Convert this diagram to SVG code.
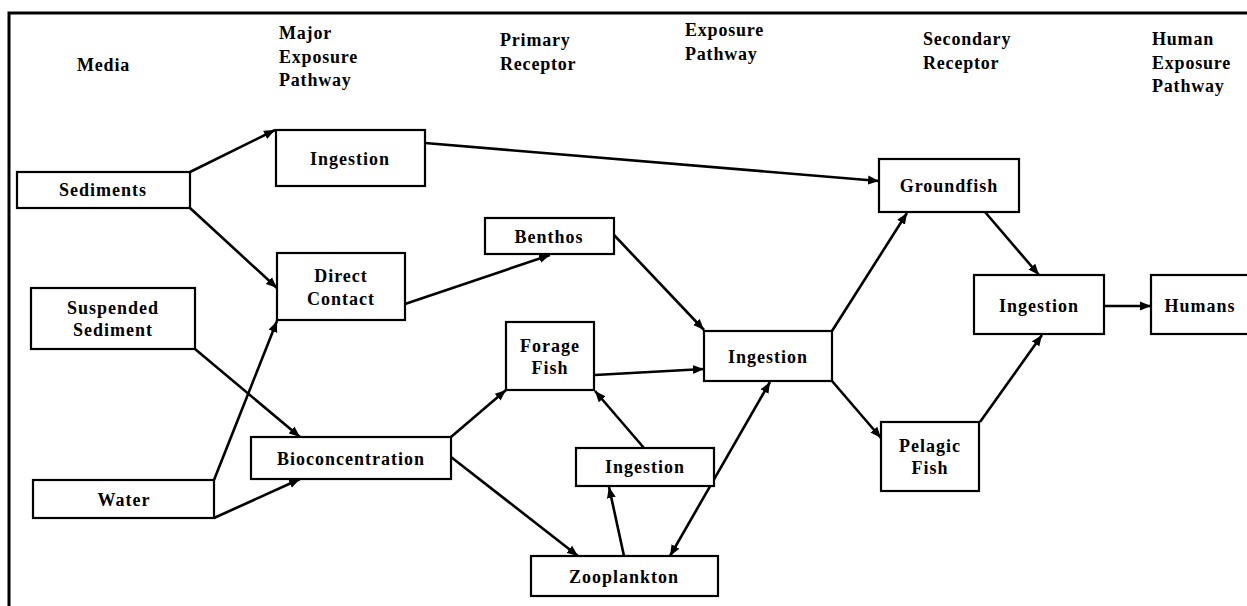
<svg xmlns="http://www.w3.org/2000/svg" width="1247" height="606" viewBox="0 0 1247 606">
  <style>
    .box { fill: #fff; stroke: #000; stroke-width: 2.2; }
    .lbl { font-family: "Liberation Serif", "Times New Roman", serif; font-weight: bold; font-size: 18px; letter-spacing: 1px; fill: #000; text-anchor: middle; }
    .hdr { font-family: "Liberation Serif", "Times New Roman", serif; font-weight: bold; font-size: 18px; letter-spacing: 0.8px; fill: #000; }
    .edge { stroke: #000; stroke-width: 2.6; fill: none; marker-end: url(#arrow); }
    .frame { stroke: #000; stroke-width: 3; fill: none; }
  </style>
  <defs>
    <marker id="arrow" markerUnits="userSpaceOnUse" markerWidth="12" markerHeight="10" refX="11" refY="5" orient="auto-start-reverse">
      <path d="M0,0.5 L11,5 L0,9.5 Z" fill="#000"/>
    </marker>
  </defs>
  <rect width="1247" height="606" fill="#fff"/>

  <!-- outer frame (top and left edges) -->
  <path class="frame" d="M9,606 V13 H1247"/>

  <!-- column headings -->
  <g id="headings">
    <text class="hdr" x="77" y="71">Media</text>
    <text class="hdr" x="279" y="39">Major</text>
    <text class="hdr" x="279" y="63">Exposure</text>
    <text class="hdr" x="279" y="86">Pathway</text>
    <text class="hdr" x="500" y="46">Primary</text>
    <text class="hdr" x="500" y="70">Receptor</text>
    <text class="hdr" x="685" y="36">Exposure</text>
    <text class="hdr" x="685" y="60">Pathway</text>
    <text class="hdr" x="923" y="45">Secondary</text>
    <text class="hdr" x="923" y="69">Receptor</text>
    <text class="hdr" x="1152" y="45">Human</text>
    <text class="hdr" x="1152" y="69">Exposure</text>
    <text class="hdr" x="1152" y="92">Pathway</text>
  </g>

  <!-- connectors -->
  <g id="connectors">
    <line class="edge" x1="190" y1="172" x2="275" y2="130"/>
    <line class="edge" x1="425" y1="143" x2="879" y2="181"/>
    <line class="edge" x1="190" y1="208" x2="277" y2="288"/>
    <line class="edge" x1="195" y1="349" x2="300" y2="437"/>
    <line class="edge" x1="214" y1="480" x2="277" y2="321"/>
    <line class="edge" x1="214" y1="518" x2="300" y2="479"/>
    <line class="edge" x1="405" y1="304" x2="550" y2="255"/>
    <line class="edge" x1="451" y1="437" x2="506" y2="390"/>
    <line class="edge" x1="451" y1="457" x2="578" y2="556"/>
    <line class="edge" x1="614" y1="235" x2="704" y2="330"/>
    <line class="edge" x1="595" y1="375" x2="704" y2="369"/>
    <line class="edge" x1="644" y1="448" x2="595" y2="391"/>
    <line class="edge" x1="624" y1="556" x2="609" y2="487"/>
    <line class="edge" x1="670" y1="556" x2="770" y2="382" marker-start="url(#arrow)"/>
    <line class="edge" x1="832" y1="331" x2="907" y2="213"/>
    <line class="edge" x1="832" y1="381" x2="881" y2="438"/>
    <line class="edge" x1="985" y1="212" x2="1039" y2="275"/>
    <line class="edge" x1="980" y1="422" x2="1042" y2="335"/>
    <line class="edge" x1="1104" y1="306" x2="1151" y2="306"/>
  </g>

  <!-- nodes -->
  <g id="sediments">
    <rect class="box" x="17" y="172" width="173" height="36"/>
    <text class="lbl" x="103" y="196">Sediments</text>
  </g>
  <g id="ingestion-sediments">
    <rect class="box" x="276" y="130" width="149" height="56"/>
    <text class="lbl" x="350" y="165">Ingestion</text>
  </g>
  <g id="suspended-sediment">
    <rect class="box" x="31" y="288" width="164" height="61"/>
    <text class="lbl" x="113" y="314">Suspended</text>
    <text class="lbl" x="113" y="336">Sediment</text>
  </g>
  <g id="direct-contact">
    <rect class="box" x="277" y="253" width="128" height="67"/>
    <text class="lbl" x="341" y="282">Direct</text>
    <text class="lbl" x="341" y="305">Contact</text>
  </g>
  <g id="water">
    <rect class="box" x="33" y="480" width="181" height="38"/>
    <text class="lbl" x="124" y="506">Water</text>
  </g>
  <g id="bioconcentration">
    <rect class="box" x="251" y="437" width="200" height="42"/>
    <text class="lbl" x="351" y="465">Bioconcentration</text>
  </g>
  <g id="benthos">
    <rect class="box" x="485" y="218" width="129" height="36"/>
    <text class="lbl" x="549" y="243">Benthos</text>
  </g>
  <g id="forage-fish">
    <rect class="box" x="506" y="322" width="88" height="68"/>
    <text class="lbl" x="550" y="352">Forage</text>
    <text class="lbl" x="550" y="374">Fish</text>
  </g>
  <g id="ingestion-zooplankton">
    <rect class="box" x="576" y="448" width="138" height="38"/>
    <text class="lbl" x="645" y="473">Ingestion</text>
  </g>
  <g id="zooplankton">
    <rect class="box" x="531" y="556" width="187" height="40"/>
    <text class="lbl" x="624" y="583">Zooplankton</text>
  </g>
  <g id="ingestion-fish">
    <rect class="box" x="704" y="331" width="128" height="50"/>
    <text class="lbl" x="768" y="363">Ingestion</text>
  </g>
  <g id="groundfish">
    <rect class="box" x="879" y="159" width="140" height="53"/>
    <text class="lbl" x="949" y="192">Groundfish</text>
  </g>
  <g id="pelagic-fish">
    <rect class="box" x="881" y="422" width="98" height="69"/>
    <text class="lbl" x="930" y="452">Pelagic</text>
    <text class="lbl" x="930" y="474">Fish</text>
  </g>
  <g id="ingestion-human">
    <rect class="box" x="974" y="275" width="130" height="59"/>
    <text class="lbl" x="1039" y="312">Ingestion</text>
  </g>
  <g id="humans">
    <rect class="box" x="1151" y="275" width="98" height="59"/>
    <text class="lbl" x="1200" y="312">Humans</text>
  </g>
</svg>
